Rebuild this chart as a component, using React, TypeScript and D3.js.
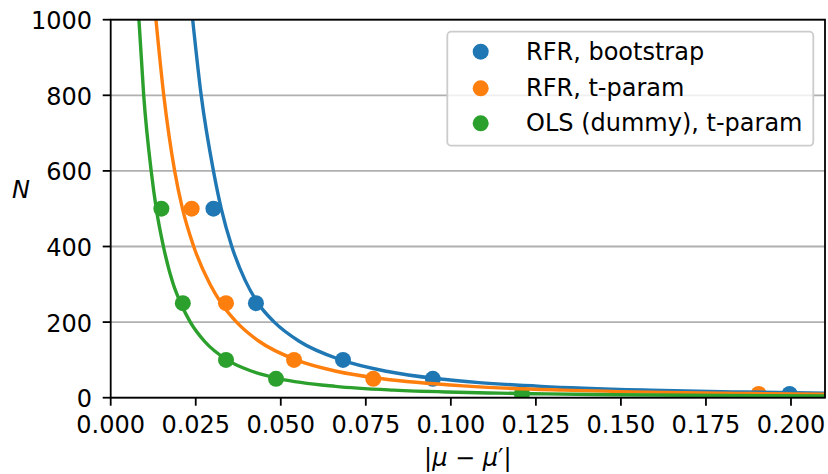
import React from "react";
import * as d3 from "d3";

// Sample sizes of the scatter points
const sampleN = [500, 250, 100, 50, 10];

// |mu - mu'| for each sample size
const rfrBootstrapX = [0.0302, 0.0427, 0.0683, 0.0947, 0.1996];
const rfrTParamX = [0.0238, 0.0339, 0.0539, 0.0772, 0.1905];
const olsTParamX = [0.0149, 0.0212, 0.0339, 0.0486, 0.1209];

// Fitted curves (x, N)
const rfrBootstrapFitX = [0.0241, 0.0266, 0.0302, 0.0325, 0.0356, 0.0395, 0.0433, 0.0481, 0.0553, 0.0677, 0.081, 0.0962, 0.1083, 0.1265, 0.1588, 0.1859, 0.21];
const rfrBootstrapFitN = [1000, 800, 600, 500, 400, 311, 250, 200, 150, 100, 70, 50, 40, 30, 20, 15, 12];
const rfrTParamFitX = [0.0133, 0.0156, 0.0188, 0.0211, 0.0244, 0.0292, 0.0325, 0.037, 0.0435, 0.0545, 0.0663, 0.0799, 0.1059, 0.133, 0.163, 0.1884, 0.21];
const rfrTParamFitN = [1000, 800, 600, 500, 400, 300, 250, 200, 150, 100, 70, 50, 30, 20, 14, 11, 9.5];
const olsTParamFitX = [0.0083, 0.0097, 0.0119, 0.0134, 0.0155, 0.0184, 0.0206, 0.0234, 0.0275, 0.0342, 0.0415, 0.0498, 0.0661, 0.0832, 0.0989, 0.114, 0.1281, 0.1485, 0.1796, 0.21];
const olsTParamFitN = [1000, 800, 600, 500, 400, 300, 250, 200, 150, 100, 70, 50, 30, 20, 15, 12, 10, 8, 6, 4.8];

const seriesLabels = ["RFR, bootstrap", "RFR, t-param", "OLS (dummy), t-param"];
const seriesColors = ["#1f77b4", "#ff7f0e", "#2ca02c"];

const xTicks = [0, 0.025, 0.05, 0.075, 0.1, 0.125, 0.15, 0.175, 0.2];
const yTicks = [0, 200, 400, 600, 800, 1000];

const W = 828;
const H = 474;
const L = 110.7, R = 825, T = 19.7, B = 397.7;
const FONT = "DejaVu Sans, sans-serif";
const FS = 24;

export default function App() {
  const x = d3.scaleLinear().domain([0, 0.21]).range([L, R]);
  const y = d3.scaleLinear().domain([0, 1000]).range([B, T]);

  const scatter = [rfrBootstrapX, rfrTParamX, olsTParamX];
  const fits = [
    [rfrBootstrapFitX, rfrBootstrapFitN],
    [rfrTParamFitX, rfrTParamFitN],
    [olsTParamFitX, olsTParamFitN],
  ];
  const line = d3
    .line<[number, number]>()
    .x((d) => x(d[0]))
    .y((d) => y(d[1]))
    .curve(d3.curveMonotoneX);

  const legX = 447.3, legY = 31.7, legW = 366, legH = 114;
  const rowY = [51.7, 88.3, 123.3];

  return (
    <svg width={W} height={H} style={{ position: "absolute", left: 0, top: 0 }} fontFamily={FONT}>
      <rect x={0} y={0} width={W} height={H} fill="#ffffff" />
      <defs>
        <clipPath id="plotclip">
          <rect x={L} y={T} width={R - L} height={B - T} />
        </clipPath>
      </defs>
      {yTicks.map((t) => (
        <line key={"g" + t} x1={L} x2={R} y1={y(t)} y2={y(t)} stroke="#b0b0b0" strokeWidth={1.8} />
      ))}
      <g clipPath="url(#plotclip)">
        {scatter.map((xs, si) =>
          xs.map((xv, i) => (
            <circle key={si + "-" + i} cx={x(xv)} cy={y(sampleN[i])} r={8} fill={seriesColors[si]} />
          ))
        )}
        {fits.map(([xs, ns], si) => (
          <path
            key={"f" + si}
            d={line(xs.map((xv, i) => [xv, ns[i]] as [number, number])) || ""}
            fill="none"
            stroke={seriesColors[si]}
            strokeWidth={3.4}
          />
        ))}
      </g>
      <rect x={L} y={T} width={R - L} height={B - T} fill="none" stroke="#000" strokeWidth={1.8} />
      {xTicks.map((t) => (
        <g key={"x" + t}>
          <line x1={x(t)} x2={x(t)} y1={B} y2={B + 8} stroke="#000" strokeWidth={1.8} />
          <text x={x(t)} y={432.5} fontSize={FS} textAnchor="middle" fill="#000">
            {d3.format(".3f")(t)}
          </text>
        </g>
      ))}
      {yTicks.map((t) => (
        <g key={"y" + t}>
          <line x1={L - 8} x2={L} y1={y(t)} y2={y(t)} stroke="#000" strokeWidth={1.8} />
          <text x={92} y={y(t) + 9.4} fontSize={FS} textAnchor="end" fill="#000">
            {t}
          </text>
        </g>
      ))}
      <text x={(L + R) / 2} y={466} fontSize={FS} textAnchor="middle" fill="#000">
        |<tspan fontStyle="italic">μ</tspan> − <tspan fontStyle="italic">μ</tspan>′|
      </text>
      <text x={21} y={198} fontSize={FS} textAnchor="middle" fontStyle="italic" fill="#000">
        N
      </text>
      <rect x={legX} y={legY} width={legW} height={legH} rx={4} fill="#ffffff" fillOpacity={0.8} stroke="#cccccc" strokeWidth={1.8} />
      {seriesLabels.map((lab, i) => (
        <g key={"l" + i}>
          <circle cx={480.7} cy={rowY[i]} r={8} fill={seriesColors[i]} />
          <text x={526} y={rowY[i] + 8} fontSize={FS} fill="#000">
            {lab}
          </text>
        </g>
      ))}
    </svg>
  );
}
